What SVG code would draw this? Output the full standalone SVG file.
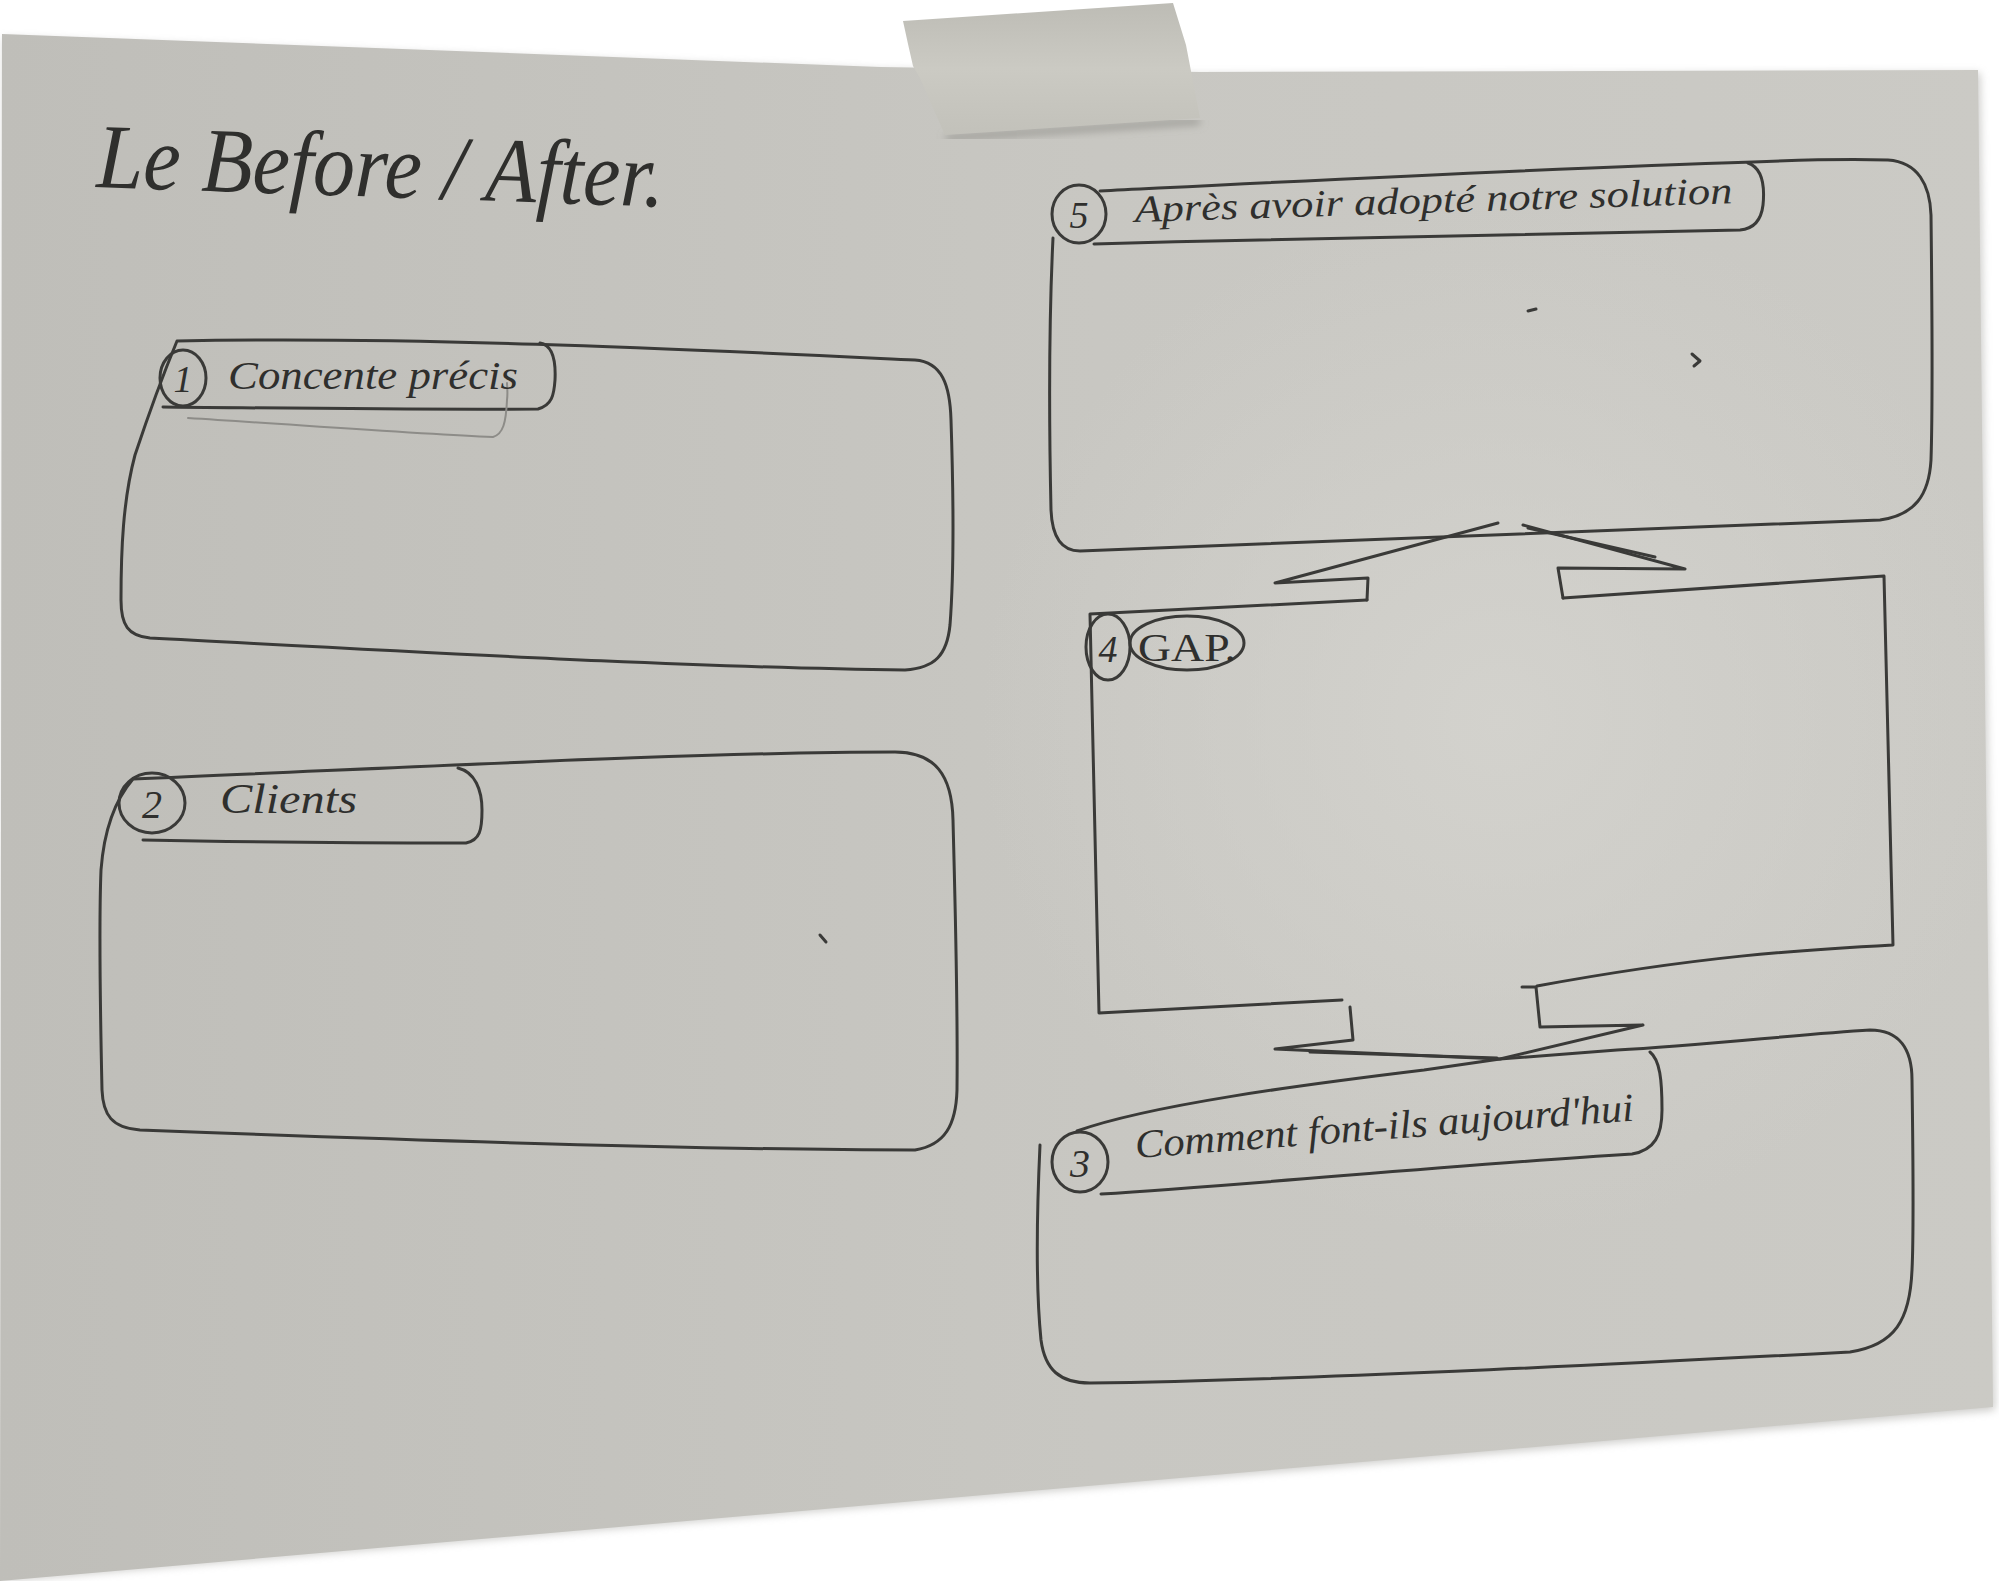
<svg xmlns="http://www.w3.org/2000/svg" width="1999" height="1581" viewBox="0 0 1999 1581">
  <defs>
    <linearGradient id="paperFill" x1="0" y1="0" x2="1" y2="0">
      <stop offset="0" stop-color="#bfbeb9"/>
      <stop offset="0.55" stop-color="#c8c7c2"/>
      <stop offset="1" stop-color="#cbcac5"/>
    </linearGradient>
    <radialGradient id="paperGlow" cx="1500" cy="720" r="520" gradientUnits="userSpaceOnUse">
      <stop offset="0" stop-color="#d4d3ce" stop-opacity="0.9"/>
      <stop offset="1" stop-color="#d4d3ce" stop-opacity="0"/>
    </radialGradient>
    <linearGradient id="tapeFill" x1="0" y1="0" x2="0" y2="1">
      <stop offset="0" stop-color="#bdbcb5"/>
      <stop offset="0.5" stop-color="#cbcac3"/>
      <stop offset="1" stop-color="#c2c1ba"/>
    </linearGradient>
    <filter id="soft" x="-5%" y="-5%" width="110%" height="110%">
      <feGaussianBlur stdDeviation="4"/>
    </filter>
  </defs>
  <style>
    .ink { fill: none; stroke: #3a3a38; stroke-width: 3; stroke-linecap: round; stroke-linejoin: round; }
    .faint { fill: none; stroke: #8d8c88; stroke-width: 2; stroke-linecap: round; }
    .hand { font-family: "Liberation Serif", "DejaVu Serif", serif; font-style: italic; fill: #2f2f2d; }
    .caps { font-family: "Liberation Serif", "DejaVu Serif", serif; fill: #2f2f2d; }
    .num { font-family: "Liberation Serif", "DejaVu Serif", serif; font-style: italic; fill: #2f2f2d; text-anchor: middle; }
  </style>

  <rect width="1999" height="1581" fill="#ffffff"/>

  <!-- sheet of paper -->
  <path d="M 4,38 L 880,70 L 1200,75 L 1980,73 L 1995,1410 L 2,1581 Z" fill="#9a9994" opacity="0.5" filter="url(#soft)"/>
  <path d="M 2,34 L 880,67 L 1200,72 L 1978,70 L 1993,1407 L 0,1581 Z" fill="url(#paperFill)"/>
  <path d="M 2,34 L 880,67 L 1200,72 L 1978,70 L 1993,1407 L 0,1581 Z" fill="url(#paperGlow)"/>

  <!-- strip of tape -->
  <path d="M 946,138 L 1200,121" stroke="#8f8e89" stroke-width="5" filter="url(#soft)"/>
  <path d="M 903,21 L 1173,3 L 1186,45 L 1200,118 L 945,135 L 933,108 L 920,78 L 913,66 L 908,44 Z" fill="url(#tapeFill)"/>

  <!-- title -->
  <text class="hand" x="96" y="187" font-size="92" textLength="568" lengthAdjust="spacingAndGlyphs" transform="rotate(2 96 187)" fill="#222221">Le Before / After.</text>

  <!-- 1: Concente précis -->
  <g id="node-1">
    <path class="ink" d="M 177,341 C 420,336 700,350 915,360 C 942,362 950,385 951,420 C 953,480 955,560 950,625 C 947,655 935,668 905,670 C 700,668 420,652 150,638 C 128,636 121,625 121,600 C 121,550 123,500 135,455 C 150,410 165,370 177,341"/>
    <path class="ink" d="M 540,343 C 552,345 556,360 555,380 C 554,395 552,405 538,409 C 420,410 280,408 163,407"/>
    <path class="faint" d="M 188,418 C 300,425 420,434 493,437 C 503,434 506,423 507,400 C 508,392 507,386 507,383"/>
    <ellipse class="ink" cx="183" cy="378" rx="23" ry="28"/>
    <text class="num" x="183" y="392" font-size="38">1</text>
    <text class="hand" x="228" y="389" font-size="40" textLength="290" lengthAdjust="spacingAndGlyphs">Concente précis</text>
  </g>

  <!-- 2: Clients -->
  <g id="node-2">
    <path class="ink" d="M 133,779 C 400,768 700,752 895,752 C 935,752 952,775 953,820 C 955,900 958,1000 957,1090 C 956,1125 945,1145 915,1150 C 700,1150 400,1140 140,1130 C 112,1128 103,1115 102,1090 C 100,1000 99,920 101,870 C 104,830 115,800 133,779"/>
    <path class="ink" d="M 458,768 C 475,772 482,790 482,810 C 482,830 480,840 466,843 C 350,843 240,842 143,840"/>
    <ellipse class="ink" cx="152" cy="803" rx="33" ry="30"/>
    <text class="num" x="152" y="818" font-size="40">2</text>
    <text class="hand" x="220" y="813" font-size="42" textLength="137" lengthAdjust="spacingAndGlyphs">Clients</text>
  </g>

  <!-- 5: Après avoir adopté notre solution -->
  <g id="node-5">
    <path class="ink" d="M 1100,191 C 1300,181 1550,168 1753,162 C 1800,160 1850,159 1888,160 C 1918,162 1930,185 1931,215 C 1932,300 1933,400 1931,460 C 1929,495 1915,515 1880,520 C 1600,530 1300,545 1080,551 C 1060,551 1052,535 1051,510 C 1049,420 1049,320 1053,238"/>
    <path class="ink" d="M 1748,163 C 1762,168 1765,185 1763,205 C 1761,222 1752,229 1740,230 C 1500,234 1300,238 1094,244"/>
    <ellipse class="ink" cx="1079" cy="214" rx="27" ry="29"/>
    <text class="num" x="1079" y="228" font-size="38">5</text>
    <text class="hand" x="1135" y="222" font-size="38" textLength="598" lengthAdjust="spacingAndGlyphs" transform="rotate(-1.8 1135 222)">Après avoir adopté notre solution</text>
  </g>

  <!-- 4: GAP -->
  <g id="node-4">
    <path class="ink" d="M 1367,600 L 1090,614 L 1099,1013 L 1342,1000"/>
    <path class="ink" d="M 1563,598 L 1884,576 L 1893,945 C 1800,950 1700,956 1537,986"/>
    <ellipse class="ink" cx="1108" cy="647" rx="22" ry="33"/>
    <text class="num" x="1108" y="662" font-size="38">4</text>
    <ellipse class="ink" cx="1187" cy="643" rx="57" ry="27"/>
    <text class="caps" x="1138" y="661" font-size="40" textLength="98" lengthAdjust="spacingAndGlyphs">GAP.</text>
  </g>

  <!-- 3: Comment font-ils aujourd'hui -->
  <g id="node-3">
    <path class="ink" d="M 1077,1131 C 1150,1105 1300,1085 1424,1070 L 1500,1059 L 1617,1050 C 1700,1046 1800,1034 1870,1030 C 1900,1030 1912,1050 1912,1080 C 1913,1150 1914,1230 1912,1270 C 1910,1320 1895,1345 1850,1352 C 1600,1365 1300,1380 1090,1383 C 1060,1383 1045,1370 1041,1340 C 1037,1300 1036,1230 1040,1145"/>
    <path class="ink" d="M 1650,1052 C 1660,1060 1662,1080 1662,1110 C 1662,1135 1655,1150 1632,1154 C 1450,1165 1250,1185 1101,1194"/>
    <ellipse class="ink" cx="1080" cy="1162" rx="28" ry="30"/>
    <text class="num" x="1080" y="1177" font-size="40">3</text>
    <text class="hand" x="1136" y="1158" font-size="40" textLength="500" lengthAdjust="spacingAndGlyphs" transform="rotate(-4.3 1136 1158)">Comment font-ils aujourd'hui</text>
  </g>

  <!-- connectors: block arrows cut into the GAP frame -->
  <g id="connectors">
    <path class="ink" d="M 1367,600 L 1368,578 L 1275,583 L 1498,523"/>
    <path class="ink" d="M 1523,525 L 1685,569 L 1558,568 L 1563,598"/>
    <path class="ink" stroke-width="2" d="M 1528,528 L 1655,557"/>
    <path class="ink" d="M 1350,1007 L 1353,1040 L 1275,1049 L 1500,1059 L 1643,1025 L 1540,1027 L 1536,987 L 1522,987"/>
    <path class="ink" stroke-width="2" d="M 1310,1052 L 1497,1058"/>
  </g>

  <!-- stray pencil marks -->
  <path class="ink" stroke-width="2" d="M 1692,354 L 1700,361 L 1694,366"/>
  <path class="ink" stroke-width="2" d="M 1528,311 L 1536,309"/>
  <path class="ink" stroke-width="2" d="M 820,935 L 826,942"/>
</svg>
